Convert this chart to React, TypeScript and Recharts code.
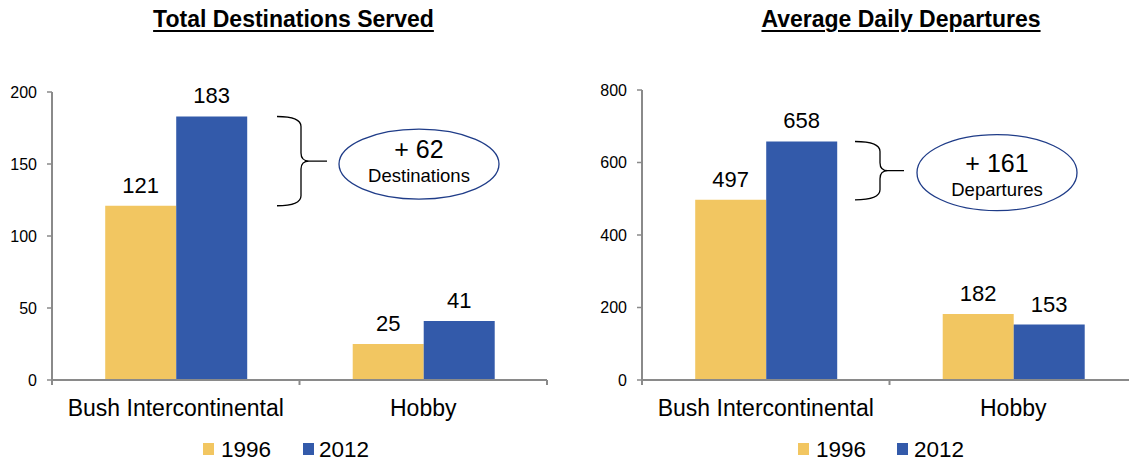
import React from 'react';
import { BarChart, Bar, XAxis, YAxis, LabelList, ReferenceLine, ReferenceArea } from 'recharts';

const categories = ['Bush Intercontinental', 'Hobby'];
const seriesNames = ['1996', '2012'];
const destinations1996 = [121, 25];
const destinations2012 = [183, 41];
const departures1996 = [497, 182];
const departures2012 = [658, 153];
const destTicks = [0, 50, 100, 150, 200];
const depTicks = [0, 200, 400, 600, 800];
const titles = ['Total Destinations Served', 'Average Daily Departures'];
const changeUnits = ['Destinations', 'Departures'];

const COLORS = ['#F2C661', '#335AAA'];
const FONT = '"Liberation Sans", Arial, Helvetica, sans-serif';
const AXIS = '#8A8A8A';

type Cfg = {
  left: number;
  top: number;
  data: { name: string; a: number; b: number }[];
  ticks: number[];
  title: string;
  titleCx: number;
  unit: string;
  brace: { x0: number; xv: number; xm: number; ecx: number; ecy: number; ry: number; t1: number; t2: number };
  legend: { r1: number; t1: number; r2: number; t2: number };
};

const build = (s1: number[], s2: number[]) => categories.map((c, i) => ({ name: c, a: s1[i], b: s2[i] }));

const charts: Cfg[] = [
  {
    left: 0,
    top: 92,
    data: build(destinations1996, destinations2012),
    ticks: destTicks,
    title: titles[0],
    titleCx: 293.5,
    unit: changeUnits[0],
    brace: { x0: 225, xv: 249, xm: 275, ecx: 367, ecy: 3, ry: 35, t1: -3, t2: 21 },
    legend: { r1: 203, t1: 221, r2: 303, t2: 319 },
  },
  {
    left: 590,
    top: 90,
    data: build(departures1996, departures2012),
    ticks: depTicks,
    title: titles[1],
    titleCx: 901,
    unit: changeUnits[1],
    brace: { x0: 213, xv: 238, xm: 262, ecx: 355, ecy: 2, ry: 38, t1: 1, t2: 25 },
    legend: { r1: 798, t1: 816, r2: 897, t2: 914 },
  },
];

const boundaryTick = (props: any) => {
  const x = props.x1;
  const y = Math.max(props.y1, props.y2);
  return <line x1={x} y1={y} x2={x} y2={y + 5} stroke={AXIS} strokeWidth={2} />;
};

const makeBrace = (cfg: Cfg, diff: number) => (p: any) => {
  const { x0, xv, xm, ecx, ecy, ry, t1, t2 } = cfg.brace;
  const top = p.y;
  const bot = p.y + p.height;
  const mid = (top + bot) / 2;
  const X0 = p.x + x0;
  const XV = p.x + xv;
  const XM = p.x + xm;
  const d = [
    `M ${X0} ${top} Q ${XV} ${top} ${XV} ${top + 10}`,
    `L ${XV} ${mid - 8} Q ${XV} ${mid} ${XV + 8} ${mid} L ${XM} ${mid}`,
    `M ${XV + 8} ${mid} Q ${XV} ${mid} ${XV} ${mid + 8}`,
    `L ${XV} ${bot - 10} Q ${XV} ${bot} ${X0} ${bot}`,
  ].join(' ');
  const cx = p.x + ecx;
  return (
    <g>
      <path d={d} fill="none" stroke="#000" strokeWidth={1.3} />
      <ellipse cx={cx} cy={mid + ecy} rx={80} ry={ry} fill="#fff" stroke="#1F3C88" strokeWidth={1.3} />
      <text x={cx} y={mid + t1} textAnchor="middle" fontSize={25} fontFamily={FONT} fill="#000">{`+ ${diff}`}</text>
      <text x={cx} y={mid + t2} textAnchor="middle" fontSize={18.5} fontFamily={FONT} fill="#000">{cfg.unit}</text>
    </g>
  );
};

const Panel = ({ cfg }: { cfg: Cfg }) => {
  const max = cfg.ticks[cfg.ticks.length - 1];
  const diff = cfg.data[0].b - cfg.data[0].a;
  return (
    <div style={{ position: 'absolute', left: cfg.left, top: 0 }}>
      <BarChart
        width={560}
        height={462}
        data={cfg.data}
        margin={{ top: cfg.top, right: 13, bottom: 0, left: 0 }}
        barCategoryGap="21.5%"
        barGap={0}
        style={{ fontFamily: FONT }}
      >
        <XAxis
          dataKey="name"
          height={82}
          interval={0}
          axisLine={{ stroke: AXIS, strokeWidth: 2 }}
          tickLine={false}
          tickMargin={14}
          tick={{ fontSize: 23, fill: '#000', fontFamily: FONT }}
        />
        <YAxis
          width={52}
          domain={[0, max]}
          ticks={cfg.ticks}
          interval={0}
          axisLine={{ stroke: AXIS, strokeWidth: 2 }}
          tickLine={{ stroke: AXIS, strokeWidth: 1.5 }}
          tickSize={5}
          tickMargin={10}
          tick={{ fontSize: 16, fill: '#000', fontFamily: FONT }}
        />
        <Bar dataKey="a" name={seriesNames[0]} fill={COLORS[0]} isAnimationActive={false}>
          <LabelList dataKey="a" position="top" offset={13} fontSize={22} fill="#000" fontFamily={FONT} />
        </Bar>
        <Bar dataKey="b" name={seriesNames[1]} fill={COLORS[1]} isAnimationActive={false}>
          <LabelList dataKey="b" position="top" offset={13} fontSize={22} fill="#000" fontFamily={FONT} />
        </Bar>
        <ReferenceLine x={categories[0]} position="start" shape={boundaryTick} />
        <ReferenceLine x={categories[1]} position="start" shape={boundaryTick} />
        <ReferenceLine x={categories[1]} position="end" shape={boundaryTick} />
        <ReferenceArea
          y1={cfg.data[0].a}
          y2={cfg.data[0].b}
          ifOverflow="visible"
          shape={makeBrace(cfg, diff)}
        />
      </BarChart>
    </div>
  );
};

const Overlay = () => (
  <>
    {charts.map((c, i) => (
      <div
        key={'t' + i}
        style={{
          position: 'absolute',
          left: c.titleCx - 300,
          width: 600,
          top: 8,
          textAlign: 'center',
          fontFamily: FONT,
          fontWeight: 'bold',
          fontSize: 23,
          lineHeight: '23px',
          color: '#000',
        }}
      >
        <span style={{ textDecoration: 'underline', textDecorationThickness: '2px', textUnderlineOffset: '3px' }}>
          {c.title}
        </span>
      </div>
    ))}
    <svg width={1129} height={462} style={{ position: 'absolute', left: 0, top: 0, pointerEvents: 'none' }}>
      {charts.map((c, i) => (
        <g key={'l' + i} fontFamily={FONT} fontSize={22.5} fill="#000">
          <rect x={c.legend.r1} y={443} width={11} height={12} fill={COLORS[0]} />
          <text x={c.legend.t1} y={457}>{seriesNames[0]}</text>
          <rect x={c.legend.r2} y={443} width={11} height={12} fill={COLORS[1]} />
          <text x={c.legend.t2} y={457}>{seriesNames[1]}</text>
        </g>
      ))}
    </svg>
  </>
);

export default function App() {
  return (
    <div
      style={{
        position: 'absolute',
        left: 0,
        top: 0,
        width: 1129,
        height: 462,
        overflow: 'hidden',
        background: '#fff',
      }}
    >
      {charts.map((c, i) => (
        <Panel key={i} cfg={c} />
      ))}
      <Overlay />
    </div>
  );
}
